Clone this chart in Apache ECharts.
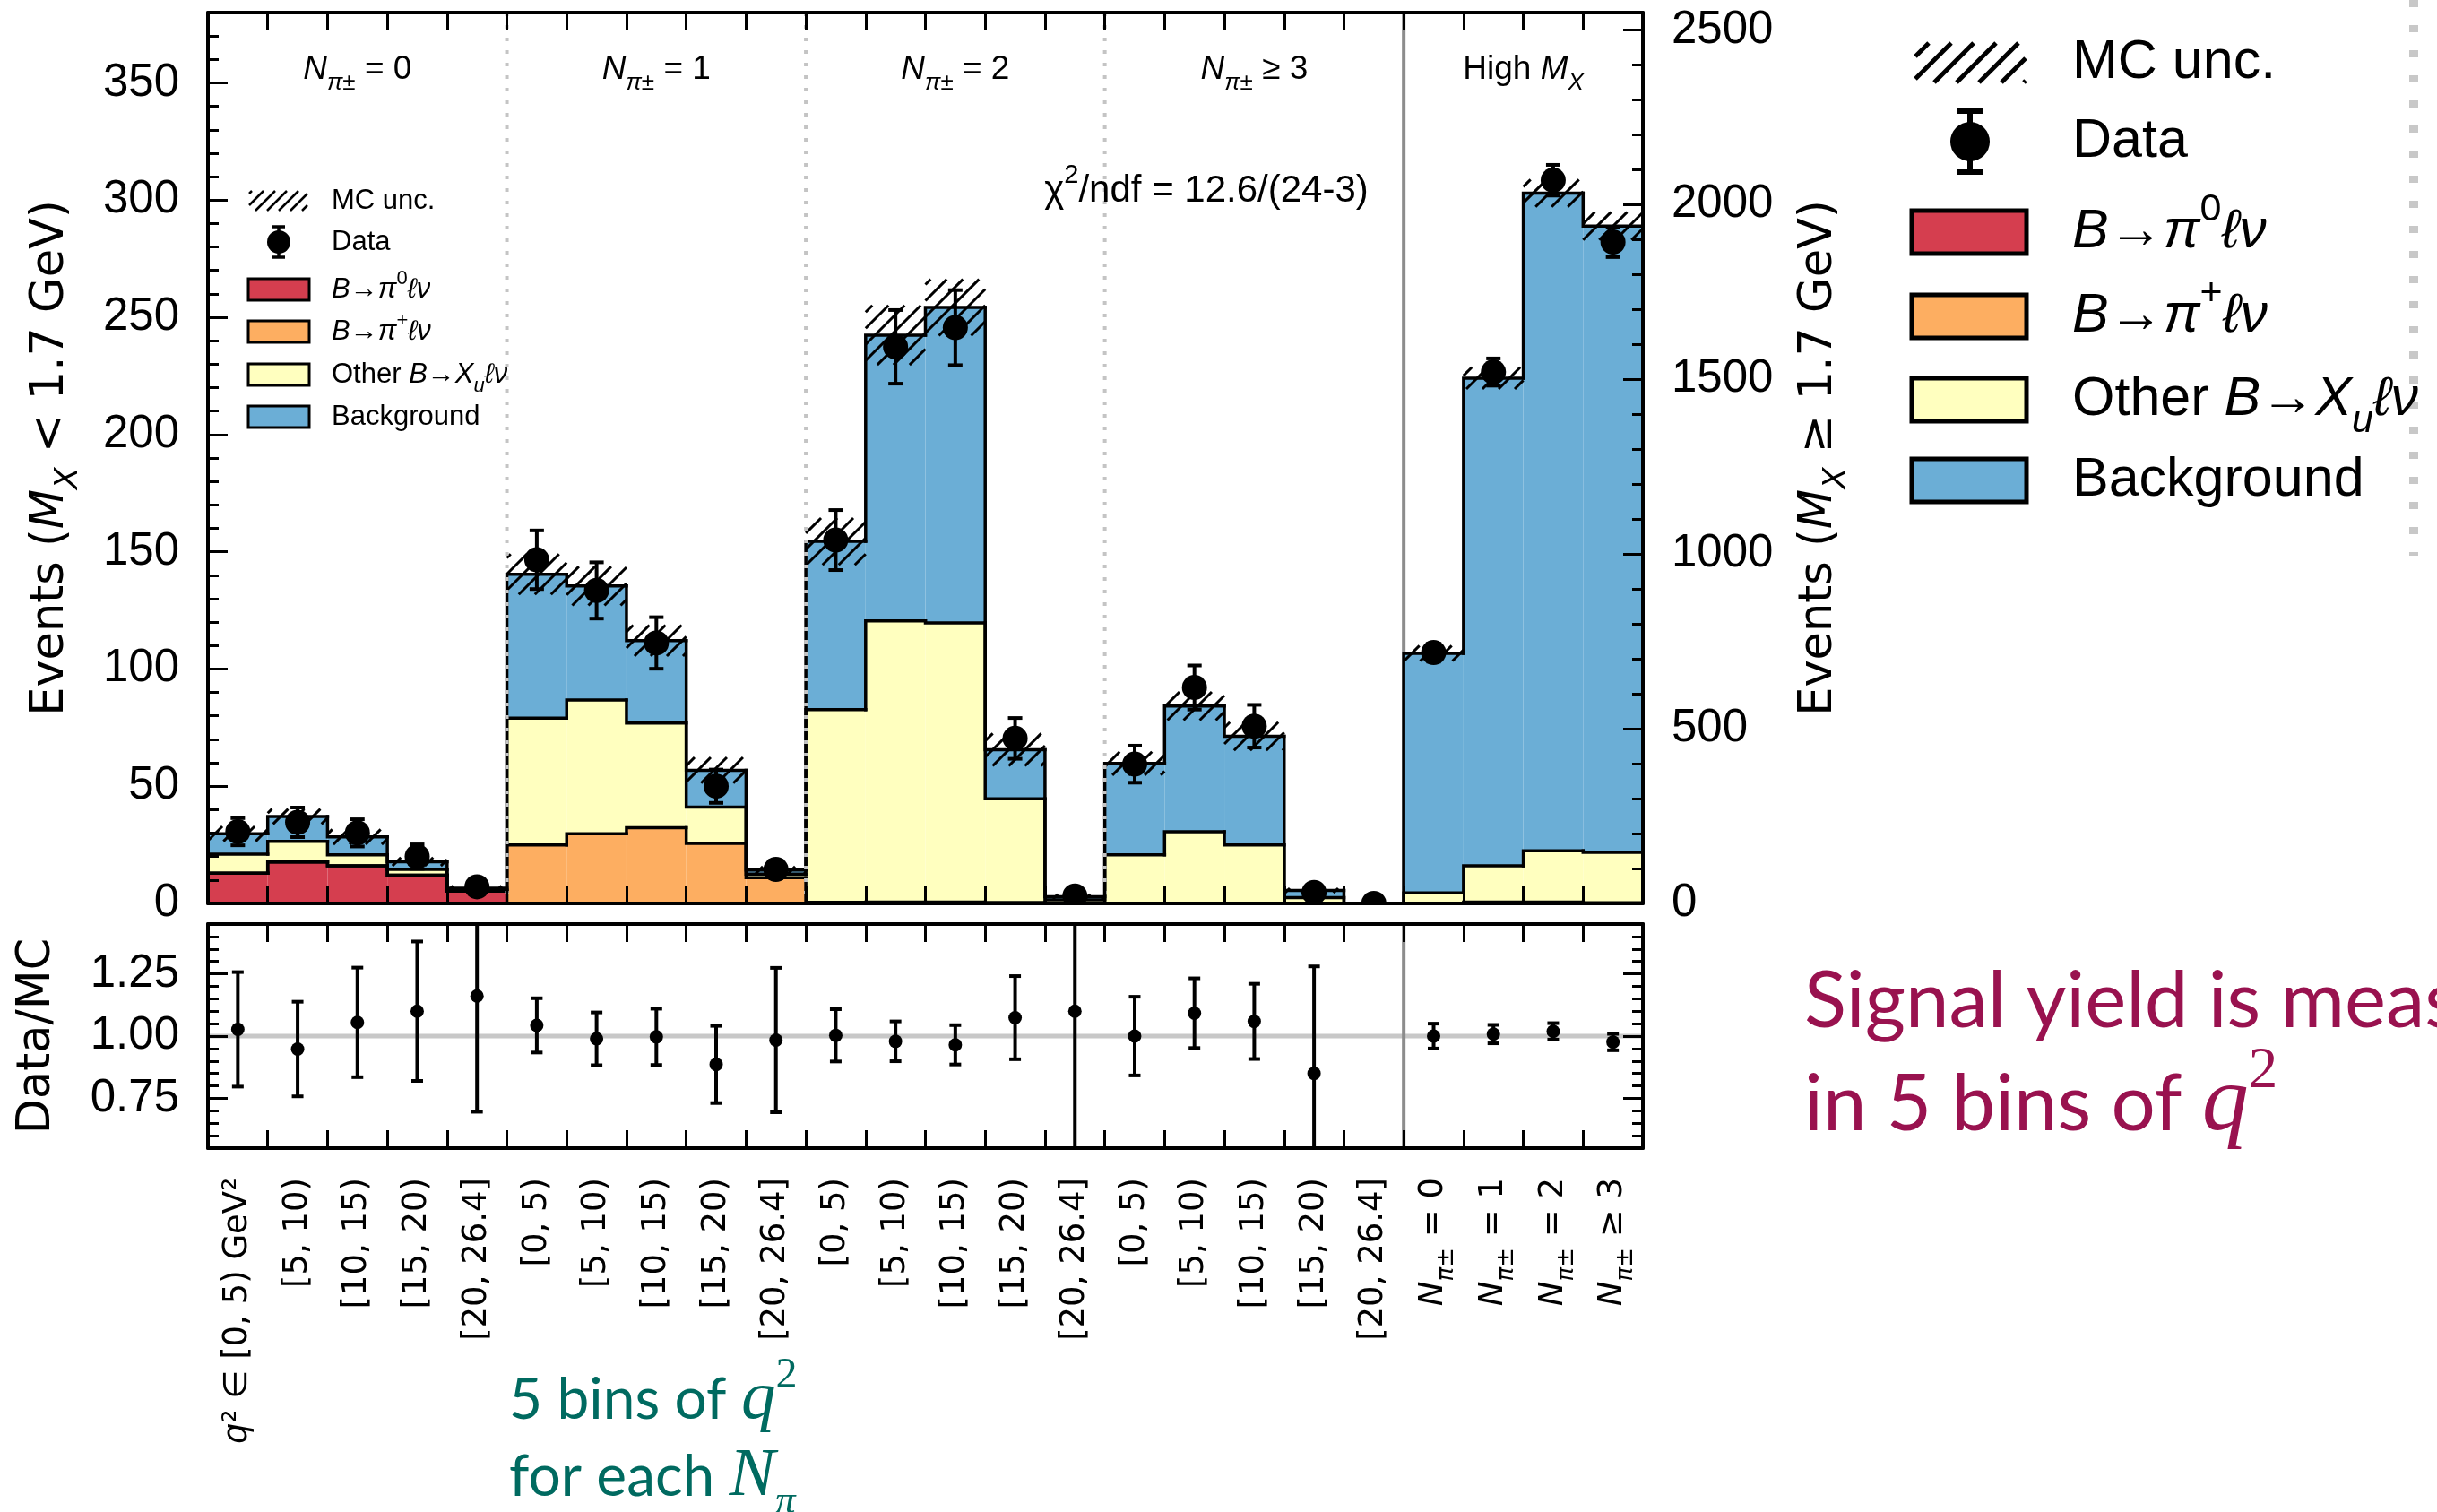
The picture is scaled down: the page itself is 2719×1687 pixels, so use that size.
<!DOCTYPE html>
<html>
<head>
<meta charset="utf-8">
<script src="https://cdn.jsdelivr.net/npm/echarts@6/dist/echarts.min.js"></script>
<style>
  html, body { margin: 0; padding: 0; background: #fff; }
  #chart { width: 2719px; height: 1687px; }
</style>
</head>
<body>
<div id="chart"></div>
<script>
// ---------------------------------------------------------------------------
// Yields per fit bin. Bins 0-19: four N_pi± groups x five q² bins (left axis,
// M_X < 1.7 GeV). Bins 20-23: high-M_X region, one bin per N_pi± (right axis).
// ---------------------------------------------------------------------------
const binLabels = [
  'q² ∈ [0, 5) GeV²', '[5, 10)', '[10, 15)', '[15, 20)', '[20, 26.4]',
  '[0, 5)', '[5, 10)', '[10, 15)', '[15, 20)', '[20, 26.4]',
  '[0, 5)', '[5, 10)', '[10, 15)', '[15, 20)', '[20, 26.4]',
  '[0, 5)', '[5, 10)', '[10, 15)', '[15, 20)', '[20, 26.4]',
  'N_π± = 0', 'N_π± = 1', 'N_π± = 2', 'N_π± ≥ 3'
];
const N_LOW = 20;           // bins read on the left axis
const N_BINS = 24;

const pi0Signal    = [12.9, 17.7, 16.1, 12.0, 5.3,   0, 0, 0, 0, 0,   0, 0, 0, 0, 0,   0, 0, 0, 0, 0,   0, 0, 0, 0];
const piPlusSignal = [0, 0, 0, 0, 0,   24.9, 29.7, 32.3, 25.6, 11.0,   0.5, 0.6, 0.6, 0.4, 0,   0, 0, 0, 0, 0,   0, 4, 4, 2];
const otherXu      = [8.1, 8.8, 4.6, 2.5, 0.5,   54.1, 57.1, 44.6, 15.5, 1.5,   82.2, 119.9, 119.1, 44.2, 1.5,   20.7, 30.6, 24.9, 2.5, 0,   30, 104, 146.6, 144];
const background   = [8.7, 10.6, 7.7, 3.3, 0.7,   61.4, 48.6, 35.2, 15.7, 1.7,   71.7, 121.9, 134.5, 21.0, 1.4,   39.0, 53.6, 46.4, 3.0, 0,   686, 1395.6, 1882.4, 1793];
const mcUncertainty = [3.2, 3.2, 3.2, 1.8, 1.0,   8.6, 8.3, 6.6, 5.5, 1.5,   10.0, 12.7, 12.0, 6.9, 1.0,   5.0, 6.0, 6.0, 1.0, 0,   22, 31, 39, 40];

const dataCounts = [30.6, 34.6, 30.1, 20.0, 7.1,   146.6, 133.5, 111.1, 50.0, 14.5,   155.0, 237.4, 245.6, 70.4, 3.2,   59.4, 92.1, 75.6, 4.7, 0,   718, 1521, 2070, 1893];
const dataErrors = [5.8, 6.3, 5.8, 5.2, 2.8,   12.5, 12.0, 11.0, 7.1, 3.8,   12.8, 15.7, 16.0, 8.7, 2.0,   7.9, 9.4, 9.1, 2.4, 0,   26, 39, 44, 43];

const ratioValues = [1.027, 0.948, 1.055, 1.10, 1.161,   1.043, 0.989, 0.997, 0.886, 0.984,   1.003, 0.979, 0.965, 1.074, 1.10,   1.0, 1.092, 1.059, 0.85, null,   1.0, 1.008, 1.019, 0.976];
const ratioErrors = [0.23, 0.19, 0.22, 0.28, 0.465,   0.109, 0.106, 0.113, 0.155, 0.29,   0.105, 0.08, 0.079, 0.167, 0.7,   0.158, 0.14, 0.151, 0.43, null,   0.05, 0.037, 0.033, 0.033];

const leftTicks  = [0, 50, 100, 150, 200, 250, 300, 350];
const rightTicks = [0, 500, 1000, 1500, 2000, 2500];
const ratioTicks = [0.75, 1.00, 1.25];
const dottedSeparators = [5, 10, 15];
const solidSeparators = [20];

const groupLabels  = ['{i|N}{sub|π±}{r| = 0}', '{i|N}{sub|π±}{r| = 1}', '{i|N}{sub|π±}{r| = 2}', '{i|N}{sub|π±}{r| ≥ 3}', '{r|High }{i|M}{sub|X}'];
const groupCenters = [2.5, 7.5, 12.5, 17.5, 22];

const LAYERS = [pi0Signal, piPlusSignal, otherXu, background];
const LAYER_COLORS = ['#d53e4f', '#fdae61', '#ffffbf', '#6baed6'];

// ---------------------------------------------------------------------------
// Layout
// ---------------------------------------------------------------------------
const MAIN  = { left: 232, top: 14, width: 1601, height: 994 };
const RATIO = { left: 232, top: 1031, width: 1601, height: 250 };
const BIN_W = MAIN.width / N_BINS;
const F_TICK = 'Liberation Sans';
const F_TITLE = 'DejaVu Sans';
const F_SLIDE = 'Lato';
const F_SERIF = 'Liberation Serif';
const EDGE_W = 3.5;

// rich-text styles (echarts model flavour and zrender flavour)
function eRich(size, family) {
  const lh = Math.round(size * 1.5), s = Math.round(size * 0.7), slh = Math.round(size * 0.75);
  return {
    r:   { fontSize: size, fontFamily: family, color: '#000', lineHeight: lh },
    i:   { fontSize: size, fontFamily: family, fontStyle: 'italic', color: '#000', lineHeight: lh },
    sup: { fontSize: s, fontFamily: family, color: '#000', verticalAlign: 'top', lineHeight: slh },
    sub: { fontSize: s, fontFamily: family, fontStyle: 'italic', color: '#000', verticalAlign: 'bottom', lineHeight: slh }
  };
}
function zRich(size, family, color) {
  const lh = Math.round(size * 1.5), s = Math.round(size * 0.7), slh = Math.round(size * 0.75);
  return {
    r:   { fontSize: size, fontFamily: family, fill: color, lineHeight: lh },
    i:   { fontSize: size, fontFamily: family, fontStyle: 'italic', fill: color, lineHeight: lh },
    sup: { fontSize: s, fontFamily: family, fill: color, verticalAlign: 'top', lineHeight: slh },
    sub: { fontSize: s, fontFamily: family, fontStyle: 'italic', fill: color, verticalAlign: 'bottom', lineHeight: slh }
  };
}

// plain bin label -> rich markup
function binLabelMarkup(s) {
  if (s.startsWith('q')) return '{i|q}{r|' + s.slice(1) + '}';
  if (s.startsWith('N_π±')) return '{i|N}{sub|π±}{r|' + s.slice(4) + '}';
  return '{r|' + s + '}';
}

// ---------------------------------------------------------------------------
// Series data built from the arrays above
// ---------------------------------------------------------------------------
function stackItems(from, to) {
  const cum = [];
  for (let i = from; i < to; i++) {
    let c = 0; const row = [0];
    LAYERS.forEach(L => { c += L[i]; row.push(c); });
    cum.push(row);
  }
  const items = [];
  LAYERS.forEach((L, k) => {
    for (let i = from; i < to; i++) {
      const row = cum[i - from];
      const prevTop = i > from ? cum[i - from - 1][k + 1] : 0;
      items.push([i, row[k], row[k + 1], prevTop, k]);
    }
  });
  return items;
}
function hatchItems(from, to) {
  const items = [];
  for (let i = from; i < to; i++) {
    const total = LAYERS.reduce((a, L) => a + L[i], 0);
    if (mcUncertainty[i] > 0) items.push([i, total - mcUncertainty[i], total + mcUncertainty[i]]);
  }
  return items;
}
function pointItems(vals, errs, from, to) {
  const items = [];
  for (let i = from; i < to; i++) {
    if (vals[i] == null) continue;
    items.push([i + 0.5, vals[i], errs[i]]);
  }
  return items;
}

// ---------------------------------------------------------------------------
// Renderers
// ---------------------------------------------------------------------------
function renderFill(params, api) {
  const i = api.value(0), lo = api.value(1), hi = api.value(2), k = api.value(4);
  if (hi <= lo) return null;
  const p0 = api.coord([i, lo]), p1 = api.coord([i + 1, hi]);
  return { type: 'rect', shape: { x: p0[0], y: p1[1], width: p1[0] - p0[0], height: p0[1] - p1[1] },
           style: { fill: LAYER_COLORS[k] } };
}
function renderEdge(params, api) {
  const i = api.value(0), hi = api.value(2), prev = api.value(3);
  const a = api.coord([i, prev]), b = api.coord([i, hi]), c = api.coord([i + 1, hi]);
  return { type: 'polyline', shape: { points: [a, b, c] },
           style: { stroke: '#000', lineWidth: EDGE_W, fill: null, lineJoin: 'miter', lineCap: 'square' } };
}
function hatchLines(x0, y0, x1, y1, step, lw) {
  const out = [];
  for (let c = Math.ceil((x0 + y0) / step) * step; c <= x1 + y1; c += step) {
    const xa = Math.max(x0, c - y1), xb = Math.min(x1, c - y0);
    if (xb > xa) out.push({ type: 'line', shape: { x1: xa, y1: c - xa, x2: xb, y2: c - xb },
                            style: { stroke: '#000', lineWidth: lw } });
  }
  return out;
}
function renderHatch(params, api) {
  const i = api.value(0), lo = api.value(1), hi = api.value(2);
  const p0 = api.coord([i, lo]), p1 = api.coord([i + 1, hi]);
  return { type: 'group', children: hatchLines(p0[0], p1[1], p1[0], p0[1], 18, 3) };
}
function pointRenderer(r, capW, lw) {
  return function (params, api) {
    const x = api.value(0), v = api.value(1), e = api.value(2);
    const c = api.coord([x, v]);
    const ch = [];
    if (e > 0) {
      const t = api.coord([x, v + e]), b = api.coord([x, v - e]);
      ch.push({ type: 'line', shape: { x1: c[0], y1: t[1], x2: c[0], y2: b[1] }, style: { stroke: '#000', lineWidth: lw } });
      ch.push({ type: 'line', shape: { x1: c[0] - capW / 2, y1: t[1], x2: c[0] + capW / 2, y2: t[1] }, style: { stroke: '#000', lineWidth: lw } });
      ch.push({ type: 'line', shape: { x1: c[0] - capW / 2, y1: b[1], x2: c[0] + capW / 2, y2: b[1] }, style: { stroke: '#000', lineWidth: lw } });
    }
    ch.push({ type: 'circle', shape: { cx: c[0], cy: c[1], r: r }, style: { fill: '#000' } });
    return { type: 'group', children: ch };
  };
}
function vLineRenderer(color, width, dash) {
  return function (params, api) {
    const cs = params.coordSys;
    const x = api.coord([api.value(0), api.value(1)])[0];
    return { type: 'line', shape: { x1: x, y1: cs.y, x2: x, y2: cs.y + cs.height },
             style: { stroke: color, lineWidth: width, lineDash: dash || null } };
  };
}
function hLineRenderer(params, api) {
  const cs = params.coordSys;
  const y = api.coord([api.value(0), api.value(1)])[1];
  return { type: 'line', shape: { x1: cs.x, y1: y, x2: cs.x + cs.width, y2: y },
           style: { stroke: '#c8c8c8', lineWidth: 5 } };
}

// ---------------------------------------------------------------------------
// Axes
// ---------------------------------------------------------------------------
const lineStyleBlack = { color: '#000', width: 4 };
function xValueAxis(gridIndex, position) {
  return { type: 'value', gridIndex, position, min: 0, max: N_BINS, interval: 1, z: 10,
    axisLine: { show: true, onZero: false, lineStyle: lineStyleBlack },
    axisTick: { show: true, inside: true, length: 20, lineStyle: { color: '#000', width: 3 } },
    axisLabel: { show: false }, splitLine: { show: false } };
}
function yMajorAxis(gridIndex, position, min, max, ticks, showLabels, fmt, name, nameGap) {
  const ax = { type: 'value', gridIndex, position, min, max, z: 10,
    axisLine: { show: true, onZero: false, lineStyle: lineStyleBlack },
    axisTick: { show: true, inside: true, length: 22, customValues: ticks, lineStyle: { color: '#000', width: 3 } },
    axisLabel: { show: showLabels, customValues: ticks, fontSize: 51, fontFamily: F_TICK, color: '#000',
                 margin: 32, formatter: fmt, showMaxLabel: true },
    splitLine: { show: false } };
  if (name) {
    ax.name = name; ax.nameLocation = 'middle'; ax.nameGap = nameGap; ax.nameRotate = 90;
    ax.nameTextStyle = { fontSize: 51, fontFamily: F_TITLE, color: '#000', rich: eRich(51, F_TITLE) };
  }
  return ax;
}
function yMinorAxis(gridIndex, position, min, max, interval) {
  return { type: 'value', gridIndex, position, min, max, interval, z: 10,
    axisLine: { show: false, onZero: false },
    axisTick: { show: true, inside: true, length: 12, lineStyle: { color: '#000', width: 3 } },
    axisLabel: { show: false }, splitLine: { show: false } };
}

// ---------------------------------------------------------------------------
// Annotations and legends (graphic layer)
// ---------------------------------------------------------------------------
const graphics = [];
function addText(x, y, text, rich, align) {
  graphics.push({ type: 'text', x, y, z: 20,
    style: { text, rich, align: align || 'left', verticalAlign: 'middle',
             textAlign: align || 'left', textVerticalAlign: 'middle' } });
}
function addLegend(o) {
  // hatch patch
  hatchLines(o.hx, o.hy, o.hx + o.hw, o.hy + o.hh, o.hstep, o.hlw).forEach(l => { l.z = 20; graphics.push(l); });
  // data marker
  const dx = o.dx, dy = o.dy;
  graphics.push({ type: 'line', z: 20, shape: { x1: dx, y1: dy - o.de, x2: dx, y2: dy + o.de }, style: { stroke: '#000', lineWidth: o.dlw } });
  graphics.push({ type: 'line', z: 20, shape: { x1: dx - o.dcap / 2, y1: dy - o.de, x2: dx + o.dcap / 2, y2: dy - o.de }, style: { stroke: '#000', lineWidth: o.dlw } });
  graphics.push({ type: 'line', z: 20, shape: { x1: dx - o.dcap / 2, y1: dy + o.de, x2: dx + o.dcap / 2, y2: dy + o.de }, style: { stroke: '#000', lineWidth: o.dlw } });
  graphics.push({ type: 'circle', z: 20, shape: { cx: dx, cy: dy, r: o.dr }, style: { fill: '#000' } });
  // colour patches
  o.py.forEach((cy, k) => {
    graphics.push({ type: 'rect', z: 20, shape: { x: o.px, y: cy - o.ph / 2, width: o.pw, height: o.ph },
                    style: { fill: LAYER_COLORS[k], stroke: '#000', lineWidth: o.plw } });
  });
  const labels = ['{r|MC unc.}', '{r|Data}', '{i|B}{r|→}{i|π}{sup|0}{i|ℓν}', '{i|B}{r|→}{i|π}{sup|+}{i|ℓν}',
                  '{r|Other }{i|B}{r|→}{i|X}{sub|u}{i|ℓν}', '{r|Background}'];
  const rich = zRich(o.fs, F_TICK, '#000');
  o.ty.forEach((ty, k) => addText(o.tx, ty, labels[k], rich, 'left'));
}

// in-plot legend
addLegend({ hx: 278, hy: 213, hw: 65, hh: 22, hstep: 13, hlw: 2.5,
            dx: 311, dy: 270, dr: 13, de: 17, dcap: 14, dlw: 3.5,
            px: 277, pw: 68, ph: 24, plw: 3, py: [323, 370, 418, 465],
            tx: 370, fs: 31, ty: [224, 270, 323, 370, 418, 465] });
// side legend
addLegend({ hx: 2137, hy: 48, hw: 123, hh: 44, hstep: 25, hlw: 5,
            dx: 2198, dy: 158, dr: 22, de: 34, dcap: 28, dlw: 6,
            px: 2133, pw: 128, ph: 48, plw: 5, py: [259, 353, 446, 536],
            tx: 2312, fs: 61, ty: [70, 158, 259, 353, 446, 536] });

// group headers and fit quality
groupLabels.forEach((t, k) => addText(MAIN.left + groupCenters[k] * BIN_W, 78, t, zRich(37, F_TICK, '#000'), 'center'));
addText(1346, 213, '{r|χ}{sup|2}{r|/ndf = 12.6/(24-3)}', zRich(42, F_TICK, '#000'), 'center');

// slide notes
const crimson = '#99124f', teal = '#006a60';
function slideRich(size, color) {
  return {
    r:   { fontSize: size, fontFamily: F_SLIDE, fill: color, lineHeight: Math.round(size * 1.6) },
    q:   { fontSize: Math.round(size * 1.2), fontFamily: F_SERIF, fontStyle: 'italic', fill: color, lineHeight: Math.round(size * 1.6) },
    sup: { fontSize: Math.round(size * 0.75), fontFamily: F_SERIF, fill: color, verticalAlign: 'top', lineHeight: Math.round(size * 0.8) },
    sub: { fontSize: Math.round(size * 0.7), fontFamily: F_SERIF, fontStyle: 'italic', fill: color, verticalAlign: 'bottom', lineHeight: Math.round(size * 0.7) }
  };
}
addText(2013, 1118, '{r|Signal yield is measured}', slideRich(87, crimson), 'left');
addText(2013, 1233, '{r|in 5 bins of }{q|q}{sup|2}', slideRich(87, crimson), 'left');
addText(568, 1562, '{r|5 bins of }{q|q}{sup|2}', slideRich(64, teal), 'left');
addText(568, 1648, '{r|for each }{q|N}{sub|π}', slideRich(64, teal), 'left');
graphics.push({ type: 'line', z: 1, shape: { x1: 2693, y1: 0, x2: 2693, y2: 620 },
                style: { stroke: '#c8c8c8', lineWidth: 10, lineDash: [8, 20] } });

// ---------------------------------------------------------------------------
// Option
// ---------------------------------------------------------------------------
const option = {
  animation: false,
  backgroundColor: '#fff',
  textStyle: { fontFamily: F_TICK },
  grid: [
    Object.assign({ outerBoundsMode: 'none', containLabel: false }, MAIN),
    Object.assign({ outerBoundsMode: 'none', containLabel: false }, RATIO)
  ],
  xAxis: [
    xValueAxis(0, 'bottom'),
    xValueAxis(0, 'top'),
    xValueAxis(1, 'bottom'),
    xValueAxis(1, 'top'),
    { type: 'category', gridIndex: 1, position: 'bottom', data: binLabels, z: 10,
      axisLine: { show: false, onZero: false }, axisTick: { show: false }, splitLine: { show: false },
      axisLabel: { interval: 0, rotate: 90, margin: 33, fontSize: 37, fontFamily: F_TITLE, color: '#000',
                   formatter: binLabelMarkup, rich: eRich(37, F_TITLE) } }
  ],
  yAxis: [
    yMajorAxis(0, 'left', 0, 380, leftTicks, true, v => String(v),
               '{r|Events (}{i|M}{sub|X}{r| < 1.7 GeV)}', 137),
    yMinorAxis(0, 'left', 0, 380, 10),
    yMajorAxis(0, 'right', 0, 2550, rightTicks, true, v => String(v),
               '{r|Events (}{i|M}{sub|X}{r| ≥ 1.7 GeV)}', 158),
    yMinorAxis(0, 'right', 0, 2550, 100),
    yMajorAxis(1, 'left', 0.55, 1.45, ratioTicks, true, v => v.toFixed(2), '{r|Data/MC}', 152),
    yMinorAxis(1, 'left', 0.55, 1.45, 0.05),
    yMajorAxis(1, 'right', 0.55, 1.45, ratioTicks, false, v => v.toFixed(2)),
    yMinorAxis(1, 'right', 0.55, 1.45, 0.05)
  ],
  graphic: { elements: graphics },
  series: [
    // main panel: high-M_X boundary (under the histogram)
    { type: 'custom', xAxisIndex: 0, yAxisIndex: 0, z: 1, clip: true, encode: { x: 0, y: 1 },
      data: solidSeparators.map(s => [s, 0]), renderItem: vLineRenderer('#8c8c8c', 4) },
    // stacked histograms
    { type: 'custom', xAxisIndex: 0, yAxisIndex: 0, z: 2, clip: true, encode: { x: 0, y: 2 },
      data: stackItems(0, N_LOW), renderItem: renderFill },
    { type: 'custom', xAxisIndex: 0, yAxisIndex: 2, z: 2, clip: true, encode: { x: 0, y: 2 },
      data: stackItems(N_LOW, N_BINS), renderItem: renderFill },
    // MC uncertainty band
    { type: 'custom', xAxisIndex: 0, yAxisIndex: 0, z: 3, clip: true, encode: { x: 0, y: 2 },
      data: hatchItems(0, N_LOW), renderItem: renderHatch },
    { type: 'custom', xAxisIndex: 0, yAxisIndex: 2, z: 3, clip: true, encode: { x: 0, y: 2 },
      data: hatchItems(N_LOW, N_BINS), renderItem: renderHatch },
    // step outlines
    { type: 'custom', xAxisIndex: 0, yAxisIndex: 0, z: 4, clip: true, encode: { x: 0, y: 2 },
      data: stackItems(0, N_LOW), renderItem: renderEdge },
    { type: 'custom', xAxisIndex: 0, yAxisIndex: 2, z: 4, clip: true, encode: { x: 0, y: 2 },
      data: stackItems(N_LOW, N_BINS), renderItem: renderEdge },
    // N_pi group separators
    { type: 'custom', xAxisIndex: 0, yAxisIndex: 0, z: 5, clip: true, encode: { x: 0, y: 1 },
      data: dottedSeparators.map(s => [s, 0]), renderItem: vLineRenderer('#c4c4c4', 4, [4, 10]) },
    // data points
    { type: 'custom', xAxisIndex: 0, yAxisIndex: 0, z: 6, clip: true, encode: { x: 0, y: 1 },
      data: pointItems(dataCounts, dataErrors, 0, N_LOW), renderItem: pointRenderer(14, 16, 4) },
    { type: 'custom', xAxisIndex: 0, yAxisIndex: 2, z: 6, clip: true, encode: { x: 0, y: 1 },
      data: pointItems(dataCounts, dataErrors, N_LOW, N_BINS), renderItem: pointRenderer(14, 16, 4) },
    // ratio panel
    { type: 'custom', xAxisIndex: 2, yAxisIndex: 4, z: 1, clip: true, encode: { x: 0, y: 1 },
      data: [[0, 1]], renderItem: hLineRenderer },
    { type: 'custom', xAxisIndex: 2, yAxisIndex: 4, z: 1, clip: true, encode: { x: 0, y: 1 },
      data: solidSeparators.map(s => [s, 1]), renderItem: vLineRenderer('#8c8c8c', 4) },
    { type: 'custom', xAxisIndex: 2, yAxisIndex: 4, z: 6, clip: true, encode: { x: 0, y: 1 },
      data: pointItems(ratioValues, ratioErrors, 0, N_BINS), renderItem: pointRenderer(7.5, 13, 4) }
  ]
};

const chart = echarts.init(document.getElementById('chart'), null, { renderer: 'canvas', width: 2719, height: 1687 });
chart.setOption(option);
</script>
</body>
</html>
